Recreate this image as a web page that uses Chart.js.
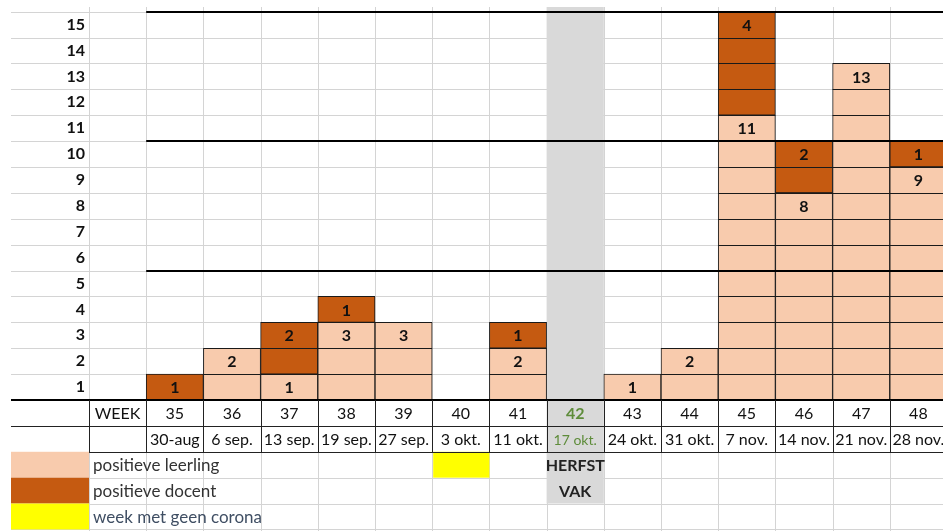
<!DOCTYPE html>
<html>
<head>
<meta charset="utf-8">
<script src="https://cdn.jsdelivr.net/npm/chart.js@4.4.1/dist/chart.umd.min.js"></script>
<style>
  html, body { margin: 0; padding: 0; background: #fff; overflow: hidden; }
  #wrap { width: 947px; height: 531px; }
</style>
</head>
<body>
<div id="wrap"><canvas id="chart"></canvas></div>
<script>
// columns of the sheet (first one holds the "WEEK" header)
const weeks = ['WEEK', '35', '36', '37', '38', '39', '40', '41', '42', '43', '44', '45', '46', '47', '48'];
const dates = ['', '30-aug', '6 sep.', '13 sep.', '19 sep.', '27 sep.', '3 okt.', '11 okt.', '17 okt.', '24 okt.', '31 okt.', '7 nov.', '14 nov.', '21 nov.', '28 nov.'];
const leerling = [0, 0, 2, 1, 3, 3, 0, 2, 0, 1, 2, 11, 8, 13, 9];
const docent = [0, 1, 0, 2, 1, 0, 0, 1, 0, 0, 0, 4, 2, 0, 1];
const rowLabels = [1, 2, 3, 4, 5, 6, 7, 8, 9, 10, 11, 12, 13, 14, 15];
const blockLines = [5, 10, 15];
const holidayWeek = '42';
const noCoronaWeek = '40';
const legendLabels = ['positieve leerling', 'positieve docent', 'week met geen corona'];

const PEACH = '#F8CBAD';
const RUST = '#C55A11';
const YELLOW = '#FFFF00';
const GREY = '#D9D9D9';
const LINE = '#D4D4D4';
const FONT = 'Lato, "Open Sans", sans-serif';

function line(ctx, x1, y1, x2, y2, color, w) {
  ctx.save();
  ctx.strokeStyle = color;
  ctx.lineWidth = w;
  ctx.beginPath();
  ctx.moveTo(x1, y1);
  ctx.lineTo(x2, y2);
  ctx.stroke();
  ctx.restore();
}

function text(ctx, str, x, y, font, color, align) {
  ctx.save();
  ctx.font = font;
  ctx.fillStyle = color;
  ctx.textAlign = align || 'center';
  ctx.textBaseline = 'middle';
  ctx.fillText(str, x, y);
  ctx.restore();
}

// spreadsheet look: grid, table below the axis, labels in the cells
const sheetPlugin = {
  id: 'sheet',
  beforeDraw(chart) {
    const ctx = chart.ctx;
    const xs = chart.scales.x, ys = chart.scales.y;
    const colW = xs.getPixelForValue(1) - xs.getPixelForValue(0);
    const rowH = ys.getPixelForValue(0) - ys.getPixelForValue(1);
    const y0 = ys.getPixelForValue(0);
    const left = i => xs.getPixelForValue(i) - colW / 2;
    const right = chart.width;
    const gridTop = 7;
    const bottom = chart.height;

    // light cell lines
    for (let k = 0; k <= 15; k++) {
      const y = Math.round(ys.getPixelForValue(k)) + 0.5;
      line(ctx, 11, y, right, y, LINE, 1);
    }
    for (let j = 1; j <= 5; j++) {
      const y = Math.round(y0 + rowH * j) + 0.5;
      line(ctx, 11, y, right, y, LINE, 1);
    }
    for (let i = 0; i <= weeks.length; i++) {
      const x = Math.round(left(i)) + 0.5;
      line(ctx, x, gridTop, x, bottom, LINE, 1);
    }

    // herfstvakantie column
    const h = weeks.indexOf(holidayWeek);
    ctx.fillStyle = GREY;
    ctx.fillRect(left(h), gridTop, colW, y0 + rowH * 4 - gridTop);

    // week without corona
    const n = weeks.indexOf(noCoronaWeek);
    ctx.fillStyle = YELLOW;
    ctx.fillRect(left(n) + 1, y0 + rowH * 2, colW - 1, rowH);

    // legend swatches
    [PEACH, RUST, YELLOW].forEach((c, j) => {
      ctx.fillStyle = c;
      ctx.fillRect(11, y0 + rowH * (2 + j), left(0) - 11, rowH);
    });
  },
  afterDatasetsDraw(chart) {
    const ctx = chart.ctx;
    const xs = chart.scales.x, ys = chart.scales.y;
    const colW = xs.getPixelForValue(1) - xs.getPixelForValue(0);
    const rowH = ys.getPixelForValue(0) - ys.getPixelForValue(1);
    const y0 = ys.getPixelForValue(0);
    const left = i => xs.getPixelForValue(i) - colW / 2;
    const right = chart.width;
    const bold = 'bold 16px ' + FONT;
    const reg = '16px ' + FONT;

    // lines between the stacked cells + counts
    weeks.forEach((w, i) => {
      const total = leerling[i] + docent[i];
      for (let k = 1; k < total; k++) {
        const y = Math.round(ys.getPixelForValue(k)) + 0.5;
        line(ctx, left(i), y, left(i) + colW, y, '#1a1a1a', 1);
      }
      const cx = xs.getPixelForValue(i);
      if (leerling[i] > 0) text(ctx, String(leerling[i]), cx, ys.getPixelForValue(leerling[i] - 0.5) + 1, bold, '#111');
      if (docent[i] > 0) text(ctx, String(docent[i]), cx, ys.getPixelForValue(total - 0.5) + 1, bold, '#111');
    });

    // thick block lines every 5
    blockLines.forEach(k => {
      const y = Math.round(ys.getPixelForValue(k));
      line(ctx, left(1), y, right, y, '#000', 2);
    });
    line(ctx, 11, Math.round(y0), right, Math.round(y0), '#000', 2);

    // week / date table
    const r1 = Math.round(y0 + rowH) + 0.5;
    const r2 = Math.round(y0 + rowH * 2) + 0.5;
    line(ctx, 11, r1, right, r1, '#222', 1);
    line(ctx, left(0), r2, right, r2, '#222', 1);
    for (let i = 0; i <= weeks.length; i++) {
      const x = Math.round(left(i)) + 0.5;
      line(ctx, x, y0, x, r2, '#222', 1);
    }
    const h = weeks.indexOf(holidayWeek);
    weeks.forEach((w, i) => {
      const cx = xs.getPixelForValue(i);
      if (i === h) {
        text(ctx, w, cx, y0 + rowH * 0.5 + 1, bold, '#5E8C3A');
        text(ctx, dates[i], cx, y0 + rowH * 1.5 + 2, '14px ' + FONT, '#5E8C3A');
      } else {
        text(ctx, w, cx, y0 + rowH * 0.5 + 1, reg, '#111');
        text(ctx, dates[i], cx, y0 + rowH * 1.5 + 1, reg, '#111');
      }
    });
    text(ctx, 'HERFST', xs.getPixelForValue(h), y0 + rowH * 2.5 + 1, bold, '#222');
    text(ctx, 'VAK', xs.getPixelForValue(h), y0 + rowH * 3.5 + 1, bold, '#222');

    // legend text
    legendLabels.forEach((l, j) => {
      text(ctx, l, left(0) + 4, y0 + rowH * (2.5 + j) + 1, '17px ' + FONT, j === 2 ? '#3F4E63' : '#333', 'left');
    });
  }
};

const ctx = document.getElementById('chart').getContext('2d');
new Chart(ctx, {
  type: 'bar',
  data: {
    labels: weeks,
    datasets: [
      {
        label: legendLabels[0],
        data: leerling.map(v => v || null),
        backgroundColor: PEACH,
        borderColor: '#1a1a1a',
        borderWidth: 1,
        borderSkipped: false,
        barPercentage: 1,
        categoryPercentage: 1
      },
      {
        label: legendLabels[1],
        data: docent.map(v => v || null),
        backgroundColor: RUST,
        borderColor: '#1a1a1a',
        borderWidth: 1,
        borderSkipped: false,
        barPercentage: 1,
        categoryPercentage: 1
      }
    ]
  },
  options: {
    responsive: true,
    maintainAspectRatio: false,
    animation: false,
    layout: { padding: { top: 0, right: 0, bottom: 131, left: 0 } },
    plugins: { legend: { display: false }, tooltip: { enabled: false } },
    scales: {
      x: { type: 'category', display: false, stacked: true, offset: true },
      y: {
        stacked: true,
        min: 0,
        max: 15.45,
        grid: { display: false, drawTicks: false },
        border: { display: false },
        ticks: {
          autoSkip: false,
          padding: 4,
          color: '#111',
          font: { family: FONT, size: 16, weight: 'bold' },
          callback: v => String(Math.round(v + 0.5))
        },
        afterBuildTicks(axis) {
          axis.ticks = rowLabels.map(v => ({ value: v - 0.5 }));
        },
        afterFit(axis) {
          axis.width = 89;
          axis.paddingTop = 0;
          axis.paddingBottom = 0;
        }
      }
    }
  },
  plugins: [sheetPlugin]
});
</script>
</body>
</html>
